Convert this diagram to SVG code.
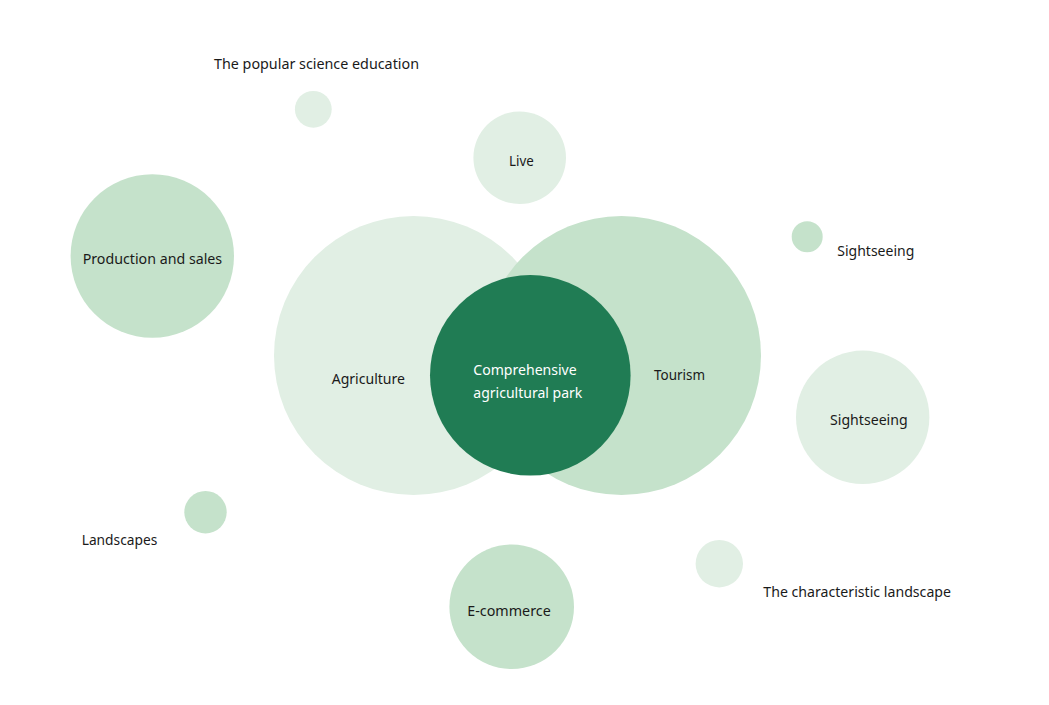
<svg xmlns="http://www.w3.org/2000/svg" width="1049" height="705" viewBox="0 0 1049 705">
<style>
.light{fill:#e1efe4}
.mid{fill:#c5e2cb}
.dark{fill:#207c54}
text{font-family:"Noto Sans","Open Sans","Liberation Sans",sans-serif;font-size:14.5px;fill:#1a1a1a}
.w{fill:#ffffff}
</style>
<rect width="1049" height="705" fill="#ffffff"/>
<g id="connectors"/>
<g id="popular-science">
<circle class="light" cx="313.3" cy="109.3" r="18.4"/>
<text x="214" y="69" textLength="205" lengthAdjust="spacingAndGlyphs">The popular science education</text>
</g>
<g id="production-sales">
<circle class="mid" cx="152.3" cy="256" r="81.7"/>
<text x="82.7" y="263.5" textLength="139.5" lengthAdjust="spacingAndGlyphs">Production and sales</text>
</g>
<g id="live">
<circle class="light" cx="519.7" cy="157.8" r="46.3"/>
<text x="509" y="165.5" textLength="24.7" lengthAdjust="spacingAndGlyphs">Live</text>
</g>
<g id="agriculture">
<circle class="light" cx="413.5" cy="355.5" r="139.5"/>
<text x="331.7" y="384" textLength="73.3" lengthAdjust="spacingAndGlyphs">Agriculture</text>
</g>
<g id="tourism">
<circle class="mid" cx="621.5" cy="355.5" r="139.5"/>
<text x="654" y="380" textLength="51" lengthAdjust="spacingAndGlyphs">Tourism</text>
</g>
<g id="park">
<circle class="dark" cx="530.3" cy="375.3" r="100.3"/>
<text class="w" x="473.3" y="375" textLength="103.4" lengthAdjust="spacingAndGlyphs">Comprehensive</text>
<text class="w" x="473.3" y="397.5" textLength="109" lengthAdjust="spacingAndGlyphs">agricultural park</text>
</g>
<g id="sightseeing-small">
<circle class="mid" cx="807.2" cy="236.7" r="15.5"/>
<text x="837.3" y="256" textLength="77" lengthAdjust="spacingAndGlyphs">Sightseeing</text>
</g>
<g id="sightseeing-big">
<circle class="light" cx="862.7" cy="417.3" r="66.7"/>
<text x="830" y="425" textLength="77.7" lengthAdjust="spacingAndGlyphs">Sightseeing</text>
</g>
<g id="characteristic-landscape">
<circle class="light" cx="719.3" cy="563.7" r="23.7"/>
<text x="763.3" y="596.7" textLength="187.7" lengthAdjust="spacingAndGlyphs">The characteristic landscape</text>
</g>
<g id="landscapes">
<circle class="mid" cx="205.5" cy="512.2" r="21.2"/>
<text x="81.7" y="545" textLength="75.6" lengthAdjust="spacingAndGlyphs">Landscapes</text>
</g>
<g id="e-commerce">
<circle class="mid" cx="511.7" cy="606.7" r="62.3"/>
<text x="467.3" y="616" textLength="83.4" lengthAdjust="spacingAndGlyphs">E-commerce</text>
</g>
</svg>
